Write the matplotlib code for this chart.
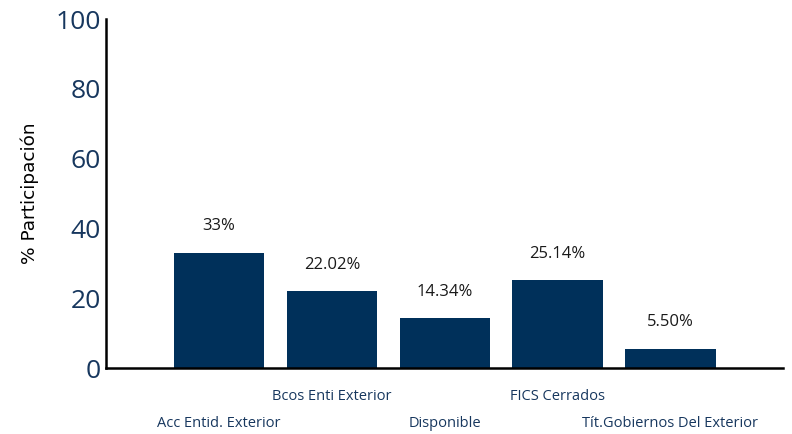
import matplotlib
matplotlib.use('Agg')
import matplotlib.pyplot as plt

# Datos
categorias = ['Acc Entid. Exterior', 'Bcos Enti Exterior', 'Disponible',
              'FICS Cerrados', 'Tít.Gobiernos Del Exterior']
valores = [33.0, 22.02, 14.34, 25.14, 5.50]
etiquetas = ['33%', '22.02%', '14.34%', '25.14%', '5.50%']
y_ticks = [0, 20, 40, 60, 80, 100]

bar_color = '#00305a'
text_blue = '#17375e'

fig = plt.figure(figsize=(7.92, 4.34), dpi=100)
ax = fig.add_axes([0.134, 0.152, 0.855, 0.804])

x = list(range(len(categorias)))
ax.bar(x, valores, width=0.8, color=bar_color, zorder=2)

for xi, v, lab in zip(x, valores, etiquetas):
    ax.annotate(lab, (xi, v), xytext=(0, 19), textcoords='offset points',
                ha='center', va='center', fontsize=12, color='#1a1a1a',
                family='Open Sans')

ax.set_xlim(-1, 5)
ax.set_ylim(0, 100)
ax.set_yticks(y_ticks)
ax.set_yticklabels([str(t) for t in y_ticks], fontsize=19, color=text_blue,
                   family='Open Sans')
ax.tick_params(axis='y', length=0, pad=4)

# Etiquetas del eje x escalonadas
ax.set_xticks([])
for xi, cat in zip(x, categorias):
    off = -28 if xi % 2 == 1 else -55
    ax.annotate(cat, (xi, 0), xytext=(0, off), textcoords='offset pixels',
                ha='center', va='center', fontsize=10.5, color=text_blue,
                family='Open Sans', annotation_clip=False)

ax.set_ylabel('% Participación', fontsize=13.3, color='black', labelpad=12)

for s in ['top', 'right']:
    ax.spines[s].set_visible(False)
ax.spines['left'].set_linewidth(1.8)
ax.spines['bottom'].set_linewidth(1.8)

fig.savefig('out.png', dpi=100)
